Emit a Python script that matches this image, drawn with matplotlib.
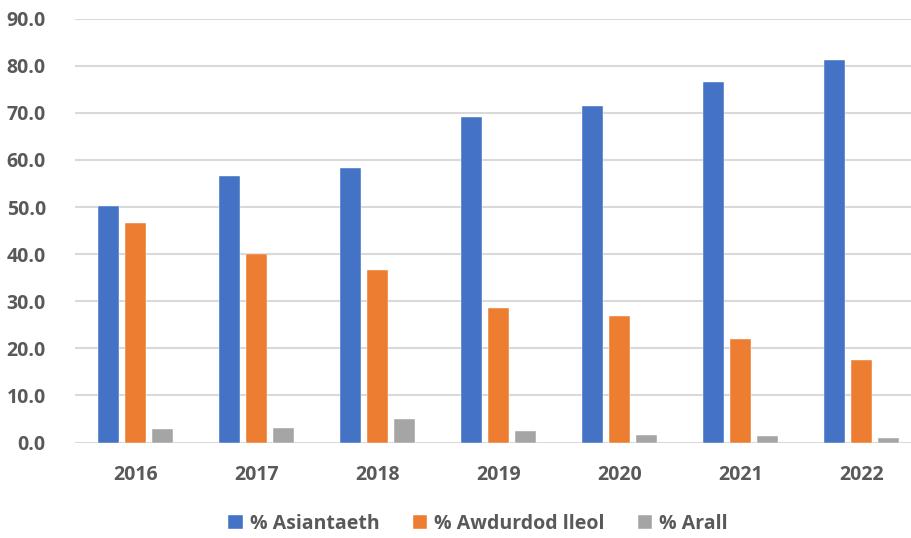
import matplotlib
matplotlib.use("Agg")
import matplotlib.pyplot as plt
import numpy as np

years = ["2016", "2017", "2018", "2019", "2020", "2021", "2022"]
asiantaeth = [50.3, 56.6, 58.3, 69.1, 71.4, 76.5, 81.3]
awdurdod = [46.6, 40.1, 36.6, 28.5, 26.9, 22.0, 17.5]
arall = [2.9, 3.1, 4.9, 2.4, 1.5, 1.3, 0.95]
series_names = ["% Asiantaeth", "% Awdurdod lleol", "% Arall"]
colors = ["#4472C4", "#ED7D31", "#A5A5A5"]
yticks = [0, 10, 20, 30, 40, 50, 60, 70, 80, 90]

plt.rcParams['font.family'] = ['Open Sans', 'DejaVu Sans']

fig = plt.figure(figsize=(9.12, 5.38), dpi=100)
ax = fig.add_axes([75/912, (538-442.5)/538, (922-75)/912, (442.5-18.7)/538])

x = np.arange(len(years))
w = 0.174
off = 0.223
for i, (vals, name, c) in enumerate(zip([asiantaeth, awdurdod, arall], series_names, colors)):
    ax.bar(x + (i-1)*off, vals, width=w, color=c, label=name, zorder=3,
           edgecolor='white', linewidth=0.3)

ax.set_xlim(-0.5, len(years)-0.5)
ax.set_ylim(0, 90)
ax.set_yticks(yticks)
ax.set_yticklabels([f"{v:.1f}" for v in yticks])
ax.set_xticks(x)
ax.set_xticklabels(years)
ax.grid(axis='y', color='#D9D9D9', linewidth=1.5, zorder=0)
ax.set_axisbelow(True)
for s in ax.spines.values():
    s.set_visible(False)
ax.tick_params(axis='both', length=0, labelsize=14, labelcolor='#595959')
ax.tick_params(axis='y', pad=21)
ax.tick_params(axis='x', pad=16)
for lbl in ax.get_xticklabels() + ax.get_yticklabels():
    lbl.set_fontweight('bold')

leg = fig.legend(loc='center', bbox_to_anchor=(478/912, 1-524/538), ncol=3, frameon=False,
                 prop={'size': 14, 'weight': 'bold'}, handlelength=0.75, handleheight=0.75,
                 handletextpad=0.35, columnspacing=1.7)
for t in leg.get_texts():
    t.set_color('#595959')

fig.savefig("out.png", dpi=100)
